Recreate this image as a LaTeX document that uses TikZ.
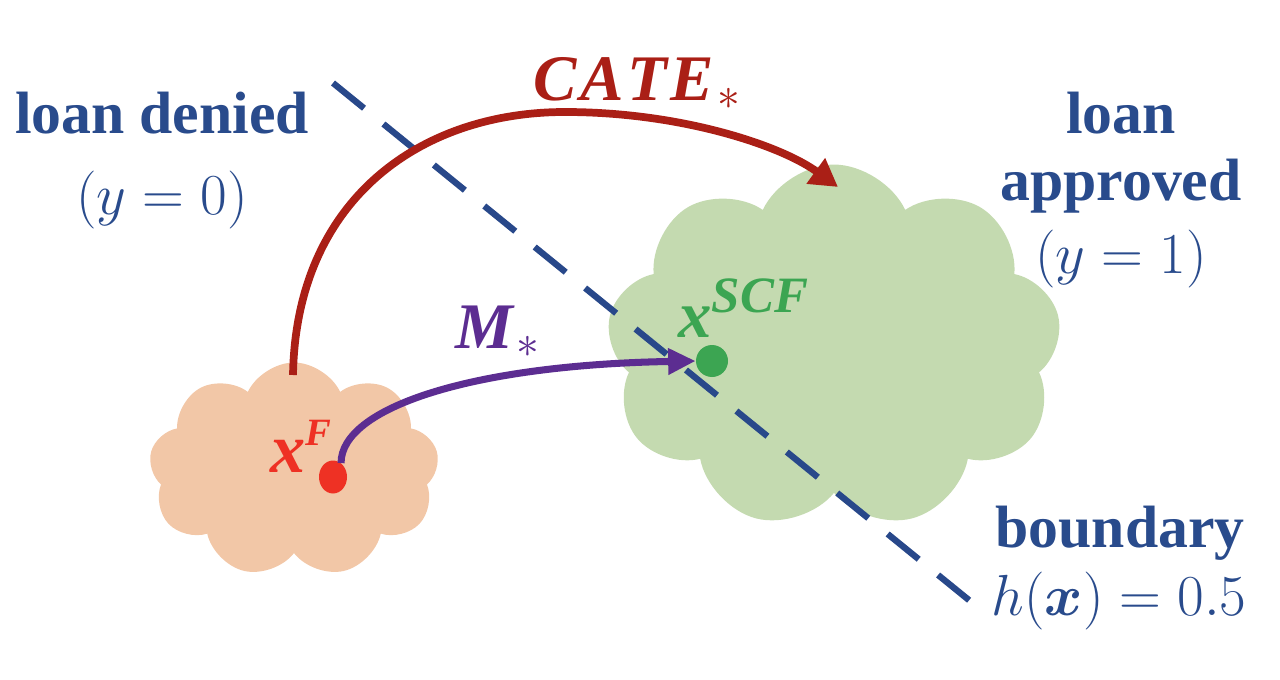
\RequirePackage{fix-cm}
\documentclass[tikz,border=0pt]{standalone}
\usepackage{fontspec}
\setmainfont{Liberation Serif}
\usepackage{bm}
\usetikzlibrary{arrows.meta, positioning, shapes.geometric, shapes.symbols}

\definecolor{labelblue}{RGB}{41,75,140}
\definecolor{lineblue}{RGB}{40,72,138}
\definecolor{catered}{RGB}{170,31,22}
\definecolor{movepurple}{RGB}{92,45,145}
\definecolor{factred}{RGB}{238,49,36}
\definecolor{scfgreen}{RGB}{60,165,82}
\definecolor{greenfill}{RGB}{196,218,176}
\definecolor{orangefill}{RGB}{242,199,167}

\begin{document}
\begin{tikzpicture}[
    x=0.02cm, y=-0.02cm,
    % style definitions
    cloud_region/.style={
        cloud, cloud puffs=9, cloud puff arc=130, draw=none, inner sep=0pt
    },
    heading_text/.style={
        anchor=base, inner sep=0pt, text=labelblue, font=\fontsize{34}{40}\selectfont\bfseries
    },
    cond_text/.style={
        anchor=base, inner sep=0pt, text=labelblue, font=\fontsize{33}{40}\selectfont
    },
    var_text/.style={
        anchor=base west, inner sep=0pt, font=\bfseries\itshape
    },
    boundary_line/.style={
        draw=lineblue, line width=3.6pt, dash pattern=on 0.8cm off 0.5cm
    },
    cate_arrow/.style={
        -{Triangle[length=0.55cm, width=0.6cm]}, draw=catered, line width=4.4pt
    },
    move_arrow/.style={
        -{Triangle[length=0.55cm, width=0.5cm]}, draw=movepurple, line width=4pt
    }
]
    \useasboundingbox (0,0) rectangle (1280,679);

    % --- 1. REGIONS (clouds) ---
    \node[cloud_region, fill=orangefill, minimum width=5.8cm, minimum height=4.3cm] (fcloud) at (294,470) {};
    \node[cloud_region, fill=greenfill, minimum width=9.1cm, minimum height=7.3cm] (scfcloud) at (834,347) {};

    % --- 2. DECISION BOUNDARY ---
    \coordinate (bnd_start) at (333,83);
    \coordinate (bnd_end) at (975,605);
    \draw[boundary_line] (bnd_start) -- (bnd_end);

    % --- 3. POINTS ---
    \node[ellipse, fill=factred, minimum width=0.56cm, minimum height=0.66cm, inner sep=0pt] (xf) at (333,477) {};
    \node[circle, fill=scfgreen, minimum size=0.64cm, inner sep=0pt] (xscf) at (712,361) {};

    \node[var_text, text=factred] (xf_lbl) at (270,472) {\fontsize{40}{40}\selectfont x\raisebox{15pt}{\fontsize{22}{22}\selectfont F}};
    \node[var_text, text=scfgreen] (xscf_lbl) at (678,337) {\fontsize{38}{40}\selectfont x\raisebox{14pt}{\fontsize{29}{29}\selectfont SCF}};

    % --- 4. ARROWS ---
    % CATE: from the factual region to the approved region
    \coordinate (cate_from) at (293,375);
    \coordinate (cate_to) at (838,187);
    \draw[cate_arrow] (cate_from) .. controls (296,200) and (420,112) .. (565,112)
        .. controls (680,112) and (780,145) .. (cate_to);
    \node[var_text, text=catered] (cate_lbl) at (533,100) {\fontsize{37}{40}\selectfont C\kern2pt A\kern2pt T\kern2pt E\kern2pt$_{\ast}$};

    % M: from x^F to x^SCF
    \draw[move_arrow] (xf.60) .. controls +(0,-55) and (470,365) .. (xscf.west);
    \node[var_text, text=movepurple] (m_lbl) at (455,348) {\fontsize{37}{40}\selectfont M\kern2pt$_{\ast}$};

    % --- 5. LABELS ---
    \node[heading_text] (denied) at (162,133) {loan denied};
    \node[cond_text] (denied_cond) at (162,214) {$(y = 0)$};

    \node[heading_text] (approved_a) at (1121,133) {loan};
    \node[heading_text] (approved_b) at (1121,200) {approved};
    \node[cond_text] (approved_cond) at (1121,273) {$(y = 1)$};

    \node[heading_text] (bound) at (1120,547) {boundary};
    \node[cond_text] (bound_cond) at (1119,615) {$h(\bm{x}) = 0.5$};

\end{tikzpicture}
\end{document}
